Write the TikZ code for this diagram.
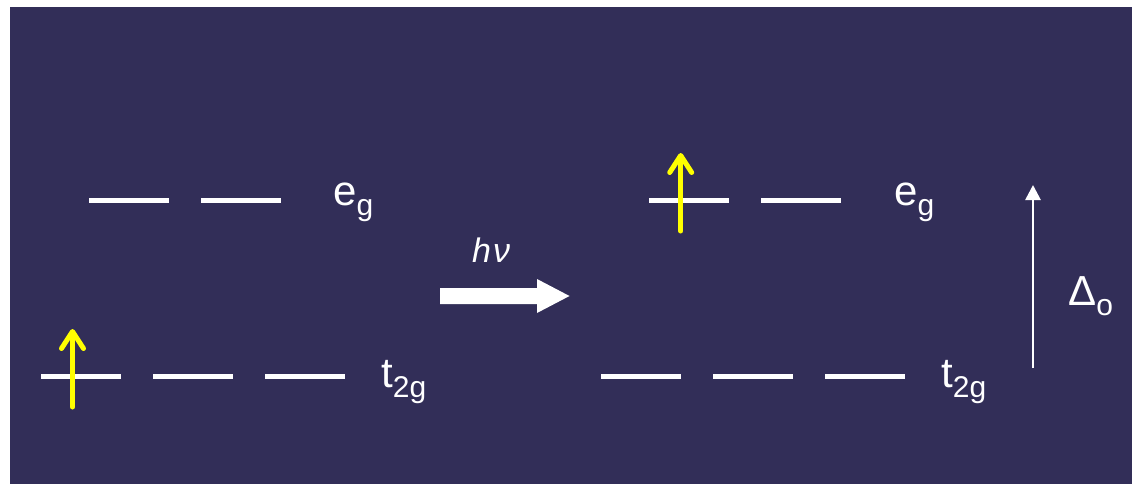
\documentclass[tikz,border=0pt]{standalone}
\usepackage{fontspec}
\setmainfont{Liberation Sans}
\usetikzlibrary{arrows.meta}
\definecolor{bgnavy}{RGB}{50,46,88}
\definecolor{elec}{RGB}{255,255,0}
\tikzset{
  level/.style={fill=white, draw=none, minimum width=80pt, minimum height=5pt, inner sep=0pt, outer sep=0pt},
  lab/.style={text=white, anchor=base west, inner sep=0pt, font=\fontsize{42}{50}\selectfont},
  spin/.style={draw=elec, line width=5pt, line cap=round, -{Straight Barb[length=17pt, width=22pt, round]}},
}
\newcommand{\mysub}[2]{#1\raisebox{-10pt}{\fontsize{30}{34}\selectfont #2}}
\begin{document}
\begin{tikzpicture}[x=1pt,y=-1pt]
\useasboundingbox (0,0) rectangle (1132,484);
\fill[white] (0,0) rectangle (1132,484);
\fill[bgnavy] (9.5,7.5) rectangle (1132,484);
% left side
\node[level] (le1) at (129,200) {};
\node[level] (le2) at (241,200) {};
\node[lab] (leg) at (333,205) {\mysub{e}{g}};
\node[level] (lt1) at (81,376) {};
\node[level] (lt2) at (193,376) {};
\node[level] (lt3) at (305,376) {};
\node[lab] (lt) at (381,387) {\mysub{t}{2g}};
\coordinate (ya0) at (72.5,407);
\coordinate (ya1) at (72.5,329);
\draw[spin] (ya0) -- (ya1);
% transition
\node[text=white, anchor=base west, inner sep=0pt, font=\fontsize{34}{40}\selectfont\itshape] (hv) at (472,262) {h\kern2ptν};
\fill[white] (440,288) -- (537,288) -- (537,279) -- (569.5,296) -- (537,313) -- (537,304) -- (440,304) -- cycle;
% right side
\node[level] (re1) at (689,200) {};
\node[level] (re2) at (801,200) {};
\node[lab] (reg) at (894,205) {\mysub{e}{g}};
\node[level] (rt1) at (641,376) {};
\node[level] (rt2) at (753,376) {};
\node[level] (rt3) at (865,376) {};
\node[lab] (rt) at (941,387) {\mysub{t}{2g}};
\coordinate (yb0) at (680.7,231);
\coordinate (yb1) at (680.7,153);
\draw[spin] (yb0) -- (yb1);
% splitting
\coordinate (d0) at (1033,368);
\coordinate (d1) at (1033,185);
\draw[white, line width=2.6pt, -{Triangle[length=15pt, width=15pt]}] (d0) -- (d1);
\node[lab] (delta) at (1068,305) {\mysub{Δ}{o}};
\end{tikzpicture}
\end{document}
